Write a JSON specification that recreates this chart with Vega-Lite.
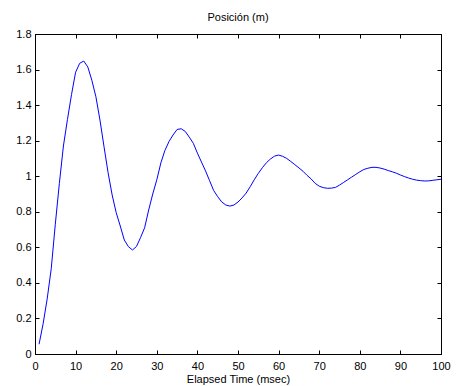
{
  "$schema": "https://vega.github.io/schema/vega-lite/v6.json",
  "width": 406,
  "height": 320,
  "autosize": {"type": "none"},
  "padding": {"left": 35, "top": 34, "right": 15, "bottom": 32},
  "background": "white",
  "title": {"text": "Posición (m)", "font": "Liberation Sans", "fontSize": 11, "fontWeight": "normal", "color": "black", "offset": 5, "anchor": "middle"},
  "config": {
    "view": {"stroke": "black", "strokeWidth": 1},
    "axis": {"labelFont": "Liberation Sans", "titleFont": "Liberation Sans", "labelFontSize": 11, "titleFontSize": 11, "titleFontWeight": "normal", "labelColor": "black", "titleColor": "black", "domainColor": "black", "tickColor": "black", "grid": false}
  },
  "data": {"values": [
    {"t":1,"v":0.055},{"t":2,"v":0.17},{"t":3,"v":0.31},{"t":4,"v":0.48},{"t":5,"v":0.73},
    {"t":6,"v":0.96},{"t":7,"v":1.17},{"t":8,"v":1.32},{"t":9,"v":1.46},{"t":10,"v":1.585},
    {"t":11,"v":1.635},{"t":12,"v":1.648},{"t":13,"v":1.615},{"t":14,"v":1.54},{"t":15,"v":1.447},
    {"t":16,"v":1.316},{"t":17,"v":1.166},{"t":18,"v":1.02},{"t":19,"v":0.895},{"t":20,"v":0.795},
    {"t":21,"v":0.72},{"t":22,"v":0.641},{"t":23,"v":0.604},{"t":24,"v":0.585},{"t":25,"v":0.605},
    {"t":26,"v":0.655},{"t":27,"v":0.71},{"t":28,"v":0.81},{"t":29,"v":0.9},{"t":30,"v":0.98},
    {"t":31,"v":1.075},{"t":32,"v":1.145},{"t":33,"v":1.195},{"t":34,"v":1.232},{"t":35,"v":1.263},
    {"t":36,"v":1.267},{"t":37,"v":1.252},{"t":38,"v":1.22},{"t":39,"v":1.185},{"t":40,"v":1.13},
    {"t":41,"v":1.08},{"t":42,"v":1.03},{"t":43,"v":0.975},{"t":44,"v":0.92},{"t":45,"v":0.885},
    {"t":46,"v":0.855},{"t":47,"v":0.838},{"t":48,"v":0.832},{"t":49,"v":0.838},{"t":50,"v":0.855},
    {"t":51,"v":0.878},{"t":52,"v":0.905},{"t":53,"v":0.941},{"t":54,"v":0.98},{"t":55,"v":1.016},
    {"t":56,"v":1.048},{"t":57,"v":1.076},{"t":58,"v":1.097},{"t":59,"v":1.113},{"t":60,"v":1.119},
    {"t":61,"v":1.112},{"t":62,"v":1.1},{"t":63,"v":1.083},{"t":64,"v":1.065},{"t":65,"v":1.047},
    {"t":66,"v":1.028},{"t":67,"v":1.005},{"t":68,"v":0.985},{"t":69,"v":0.96},{"t":70,"v":0.944},
    {"t":71,"v":0.936},{"t":72,"v":0.932},{"t":73,"v":0.933},{"t":74,"v":0.937},{"t":75,"v":0.95},
    {"t":76,"v":0.965},{"t":77,"v":0.98},{"t":78,"v":0.995},{"t":79,"v":1.01},{"t":80,"v":1.025},
    {"t":81,"v":1.038},{"t":82,"v":1.045},{"t":83,"v":1.05},{"t":84,"v":1.05},{"t":85,"v":1.046},
    {"t":86,"v":1.04},{"t":87,"v":1.032},{"t":88,"v":1.025},{"t":89,"v":1.017},{"t":90,"v":1.007},
    {"t":91,"v":0.998},{"t":92,"v":0.99},{"t":93,"v":0.983},{"t":94,"v":0.978},{"t":95,"v":0.975},
    {"t":96,"v":0.973},{"t":97,"v":0.974},{"t":98,"v":0.977},{"t":99,"v":0.98},{"t":100,"v":0.983}
  ]},
  "layer": [
    {
      "mark": {"type": "line", "color": "#0000ff", "strokeWidth": 1, "clip": true},
      "encoding": {
        "x": {"field": "t", "type": "quantitative", "scale": {"domain": [0, 100], "nice": false}, "axis": {"orient": "bottom", "title": "Elapsed Time (msec)", "values": [0,10,20,30,40,50,60,70,80,90,100], "tickSize": -4, "labelPadding": 10, "titlePadding": 2, "labelFlush": false}},
        "y": {"field": "v", "type": "quantitative", "scale": {"domain": [0, 1.8], "nice": false, "zero": false}, "axis": {"orient": "left", "title": null, "values": [0,0.2,0.4,0.6,0.8,1,1.2,1.4,1.6,1.8], "format": "~g", "tickSize": -4, "labelPadding": 8, "labelFlush": false}}
      }
    },
    {
      "mark": {"type": "line", "opacity": 0, "clip": true},
      "encoding": {
        "x": {"field": "t", "type": "quantitative", "scale": {"domain": [0, 100], "nice": false}, "axis": {"orient": "top", "title": null, "labels": false, "values": [0,10,20,30,40,50,60,70,80,90,100], "tickSize": -4}},
        "y": {"field": "v", "type": "quantitative", "scale": {"domain": [0, 1.8], "nice": false, "zero": false}, "axis": {"orient": "right", "title": null, "labels": false, "values": [0,0.2,0.4,0.6,0.8,1,1.2,1.4,1.6,1.8], "tickSize": -4}}
      }
    }
  ],
  "resolve": {"axis": {"x": "independent", "y": "independent"}}
}
